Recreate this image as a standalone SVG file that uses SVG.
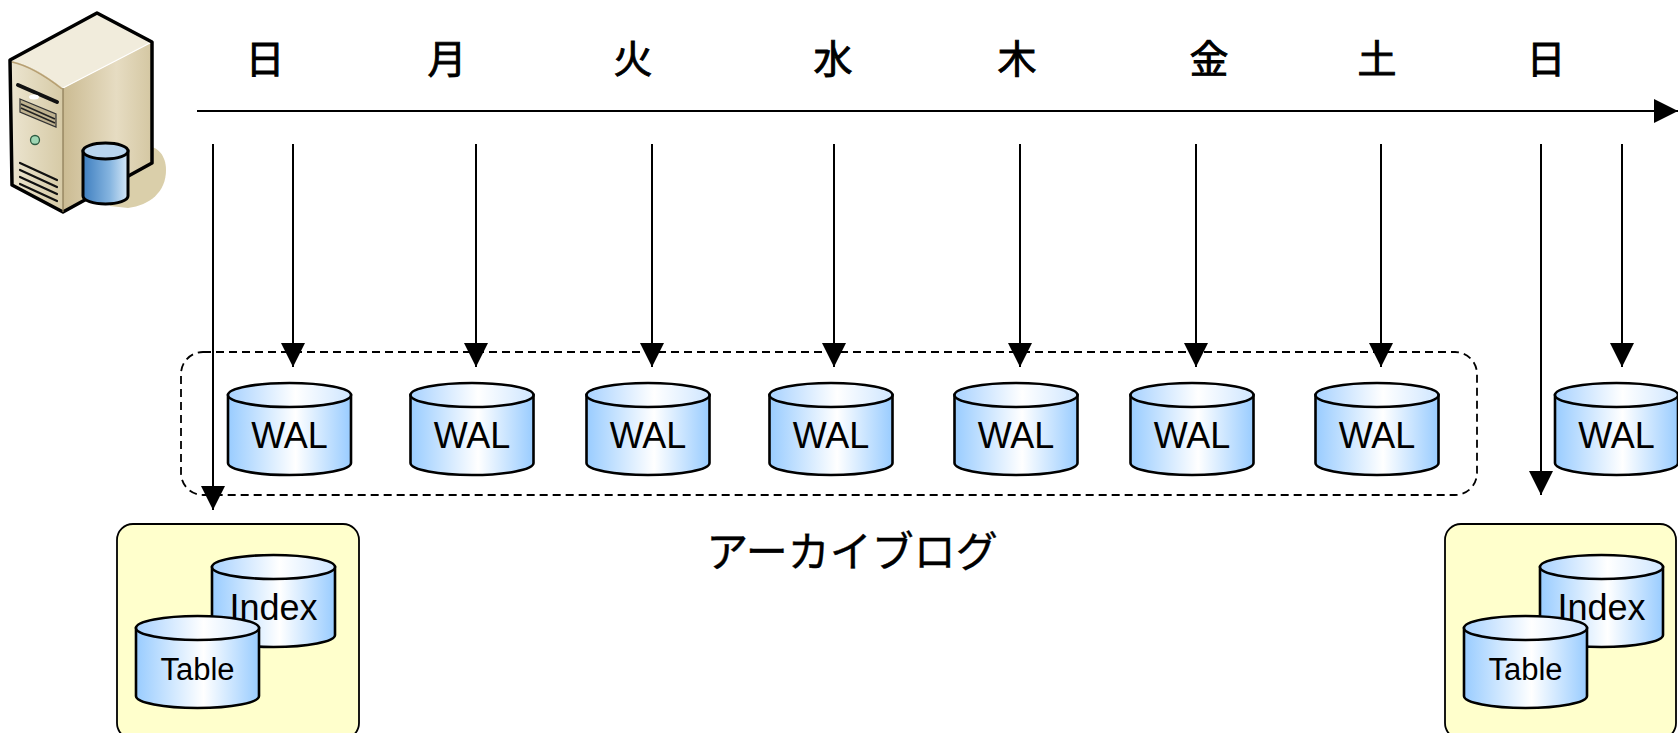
<svg xmlns="http://www.w3.org/2000/svg" xmlns:xlink="http://www.w3.org/1999/xlink" width="1678" height="733" viewBox="0 0 1678 733">
<style>
.day{font-family:"Noto Sans CJK JP","Noto Sans CJK SC",sans-serif;font-size:39px;font-weight:400;fill:#000;stroke:#000;stroke-width:0.9;text-anchor:middle}
.lbl{font-family:"Liberation Sans",Arial,sans-serif;fill:#000;text-anchor:middle}
.wal{font-size:36px}
.conn{stroke:#000;stroke-width:2;fill:none}
.arrow{marker-end:url(#ah)}
.box{fill:#ffffcc;stroke:#000;stroke-width:1.8}
.cylb{fill:url(#gBody);stroke:#000;stroke-width:2.6}
.cylt{fill:url(#gTop);stroke:#000;stroke-width:2.6}
</style>
<defs>
<linearGradient id="gBody" x1="0" y1="0" x2="1" y2="0">
<stop offset="0" stop-color="#99ccff"/>
<stop offset="0.55" stop-color="#ffffff"/>
<stop offset="1" stop-color="#99ccff"/>
</linearGradient>
<linearGradient id="gTop" x1="0" y1="0" x2="1" y2="0">
<stop offset="0" stop-color="#a8d2ff"/>
<stop offset="0.55" stop-color="#ffffff"/>
<stop offset="1" stop-color="#cfe6ff"/>
</linearGradient>
<linearGradient id="gFront" x1="0" y1="0" x2="1" y2="0">
<stop offset="0" stop-color="#ece5d0"/>
<stop offset="1" stop-color="#d6caa6"/>
</linearGradient>
<linearGradient id="gSide" x1="0" y1="0" x2="1" y2="0">
<stop offset="0" stop-color="#cbbb92"/>
<stop offset="0.6" stop-color="#e6dcc2"/>
<stop offset="1" stop-color="#d4c7a2"/>
</linearGradient>
<linearGradient id="gSrvCyl" x1="0" y1="0" x2="1" y2="0">
<stop offset="0" stop-color="#3f7fc0"/>
<stop offset="0.6" stop-color="#86b5e0"/>
<stop offset="1" stop-color="#d6e8f7"/>
</linearGradient>
<marker id="ah" markerUnits="userSpaceOnUse" markerWidth="24" markerHeight="24" viewBox="0 0 24 24" refX="24" refY="12" orient="auto">
<path d="M0,0 L24,12 L0,24 Z" fill="#000"/>
</marker>
<g id="cyl">
<path class="cylb" d="M0,12 V80 A61.5,12 0 0 0 123,80 V12 Z"/>
<ellipse class="cylt" cx="61.5" cy="12" rx="61.5" ry="12"/>
</g>
</defs>

<rect width="1678" height="733" fill="#fff"/>

<g id="server">
<path d="M132,150 C150,140 166,150 166,170 C166,192 150,205 128,208 L110,206 Z" fill="#dacfaa"/>
<path d="M63,88 L152,42 L152,163 L63,212 Z" fill="url(#gSide)"/>
<path d="M10,60 C30,64 48,76 63,88 L63,212 L12,185 Z" fill="url(#gFront)"/>
<path d="M10,60 L97,13 L152,42 L63,88 C48,76 30,64 10,60 Z" fill="#f1ecdc"/>
<path d="M12,62 C30,66 48,78 62,89" fill="none" stroke="#b79f72" stroke-width="1.5"/>
<path d="M63,88 L152,42" fill="none" stroke="#ffffff" stroke-width="1.2"/>
<path d="M10,60 L97,13 L152,42 L152,163 L63,212 L12,185 Z" fill="none" stroke="#000" stroke-width="3.5" stroke-linejoin="round"/>
<path d="M63,88 L63,212" fill="none" stroke="#8a7a55" stroke-width="1.2"/>
<path d="M18,85 L57,102" stroke="#111" stroke-width="4" stroke-linecap="round"/>
<ellipse cx="34" cy="97" rx="5" ry="2.5" fill="#fff"/>
<path d="M20,99 L56,114 L56,127 L20,112 Z" fill="#bfb290" stroke="#333" stroke-width="1.2"/>
<path d="M21,104 L55,119 M21,108 L55,123" stroke="#222" stroke-width="1.5"/>
<circle cx="35" cy="140" r="4.5" fill="#9fd6b4" stroke="#2d5a40" stroke-width="1.3"/>
<path d="M20,163 L57,180 M20,170 L57,187 M20,177 L57,194 M20,184 L57,201" stroke="#111" stroke-width="2.2" stroke-linecap="round"/>
<path d="M83,151 V196 A22.5,8 0 0 0 128,196 V151 Z" fill="url(#gSrvCyl)" stroke="#000" stroke-width="3"/>
<ellipse cx="105.5" cy="151" rx="22.5" ry="8" fill="#b9d5ef" stroke="#000" stroke-width="3"/>
</g>

<g id="days">
<text class="day" x="265" y="73">日</text>
<text class="day" x="447" y="73">月</text>
<text class="day" x="633" y="73">火</text>
<text class="day" x="833" y="73">水</text>
<text class="day" x="1017" y="73">木</text>
<text class="day" x="1209" y="73">金</text>
<text class="day" x="1377" y="73">土</text>
<text class="day" x="1546" y="73">日</text>
</g>

<g id="archive-group">
<rect x="181" y="352" width="1296" height="143" rx="22" fill="none" stroke="#000" stroke-width="1.8" stroke-dasharray="8 5"/>
<text x="852" y="567" font-family="'Noto Sans CJK JP','Noto Sans CJK SC',sans-serif" font-size="42" text-anchor="middle" stroke="#000" stroke-width="0.4">アーカイブログ</text>
</g>

<g id="wal1"><use href="#cyl" x="228" y="383"/><text class="lbl wal" x="289.5" y="448">WAL</text></g>
<g id="wal2"><use href="#cyl" x="410.5" y="383"/><text class="lbl wal" x="472" y="448">WAL</text></g>
<g id="wal3"><use href="#cyl" x="586.5" y="383"/><text class="lbl wal" x="648" y="448">WAL</text></g>
<g id="wal4"><use href="#cyl" x="769.5" y="383"/><text class="lbl wal" x="831" y="448">WAL</text></g>
<g id="wal5"><use href="#cyl" x="954.5" y="383"/><text class="lbl wal" x="1016" y="448">WAL</text></g>
<g id="wal6"><use href="#cyl" x="1130.5" y="383"/><text class="lbl wal" x="1192" y="448">WAL</text></g>
<g id="wal7"><use href="#cyl" x="1315.5" y="383"/><text class="lbl wal" x="1377" y="448">WAL</text></g>
<g id="wal8"><use href="#cyl" x="1555" y="383"/><text class="lbl wal" x="1616.5" y="448">WAL</text></g>

<g id="backup1">
<rect class="box" x="117" y="524" width="242" height="215" rx="16"/>
<use href="#cyl" x="212" y="555"/>
<text class="lbl" x="273.5" y="620" font-size="36">Index</text>
<use href="#cyl" x="136" y="616"/>
<text class="lbl" x="197.5" y="680" font-size="31">Table</text>
</g>

<g id="backup2">
<rect class="box" x="1445" y="524" width="231" height="215" rx="16"/>
<use href="#cyl" x="1540" y="555"/>
<text class="lbl" x="1601.5" y="620" font-size="36">Index</text>
<use href="#cyl" x="1464" y="616"/>
<text class="lbl" x="1525.5" y="680" font-size="31">Table</text>
</g>

<g id="connectors">
<line class="conn arrow" x1="197" y1="111" x2="1678" y2="111" stroke-width="2.5"/>
<line class="conn arrow" x1="213" y1="144" x2="213" y2="510"/>
<line class="conn arrow" x1="293" y1="144" x2="293" y2="367"/>
<line class="conn arrow" x1="476" y1="144" x2="476" y2="367"/>
<line class="conn arrow" x1="652" y1="144" x2="652" y2="367"/>
<line class="conn arrow" x1="834" y1="144" x2="834" y2="367"/>
<line class="conn arrow" x1="1020" y1="144" x2="1020" y2="367"/>
<line class="conn arrow" x1="1196" y1="144" x2="1196" y2="367"/>
<line class="conn arrow" x1="1381" y1="144" x2="1381" y2="367"/>
<line class="conn arrow" x1="1541" y1="144" x2="1541" y2="495"/>
<line class="conn arrow" x1="1622" y1="144" x2="1622" y2="367"/>
</g>
</svg>
